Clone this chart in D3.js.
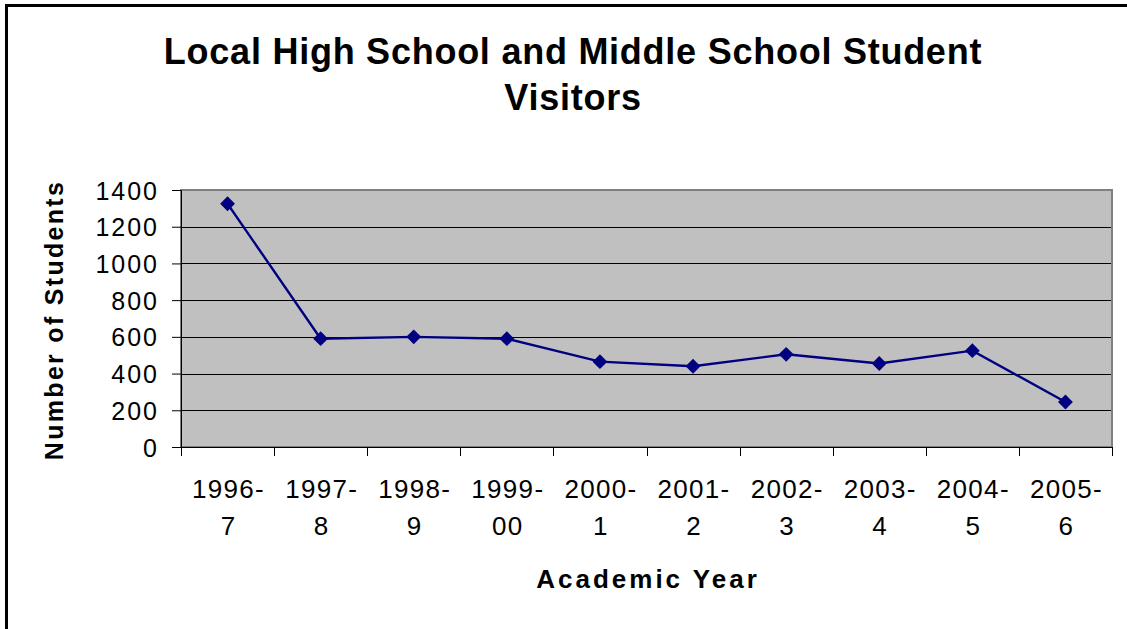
<!DOCTYPE html>
<html>
<head>
<meta charset="utf-8">
<script src="https://cdn.jsdelivr.net/npm/d3@7"></script>
<style>
  html, body { margin: 0; padding: 0; background: #fff; overflow: hidden; }
  svg { display: block; font-family: "Liberation Sans", Arial, sans-serif; }
</style>
</head>
<body>
<svg id="chart" width="1127" height="629"></svg>
<script>
const categories = ["1996-7", "1997-8", "1998-9", "1999-00", "2000-1", "2001-2", "2002-3", "2003-4", "2004-5", "2005-6"];
const visitors = [1325, 590, 600, 590, 465, 440, 505, 455, 525, 245];
const yTicks = [0, 200, 400, 600, 800, 1000, 1200, 1400];
const titleLines = ["Local High School and Middle School Student", "Visitors"];
const xTitle = "Academic Year";
const yTitle = "Number of Students";

const svg = d3.select("#chart");
const W = 1127, H = 629;
const plot = { left: 181, top: 190, right: 1112, bottom: 447 };

// outer frame (extends beyond right/bottom edges)
svg.append("rect")
  .attr("x", 6.5).attr("y", 5.5)
  .attr("width", W + 20).attr("height", H + 20)
  .attr("fill", "#fff").attr("stroke", "#000").attr("stroke-width", 3);

const x = d3.scaleBand().domain(categories).range([plot.left, plot.right]).padding(0);
const y = d3.scaleLinear().domain([0, 1400]).range([plot.bottom, plot.top]);

// plot area background
svg.append("rect")
  .attr("x", plot.left).attr("y", plot.top)
  .attr("width", plot.right - plot.left).attr("height", plot.bottom - plot.top)
  .attr("fill", "#c0c0c0");

// gridlines
svg.append("g")
  .selectAll("line")
  .data(yTicks.filter(d => d > 0 && d < 1400))
  .join("line")
  .attr("x1", plot.left).attr("x2", plot.right)
  .attr("y1", d => Math.round(y(d)) + 0.5).attr("y2", d => Math.round(y(d)) + 0.5)
  .attr("stroke", "#000").attr("stroke-width", 1);

// plot border (gray)
svg.append("rect")
  .attr("x", plot.left).attr("y", plot.top)
  .attr("width", plot.right - plot.left).attr("height", plot.bottom - plot.top)
  .attr("fill", "none").attr("stroke", "#808080").attr("stroke-width", 2);

// Y axis
const yAxis = d3.axisLeft(y).tickValues(yTicks).tickSize(9).tickPadding(13).tickFormat(d3.format("d"));
const gy = svg.append("g").attr("transform", `translate(${plot.left},0)`).call(yAxis);
gy.select(".domain").attr("stroke", "#000").attr("stroke-width", 1);
gy.selectAll(".tick line").attr("stroke", "#000");
gy.selectAll(".tick text").attr("font-size", 25).attr("fill", "#000")
  .attr("letter-spacing", 2)
  .attr("font-family", "Liberation Sans, Arial, sans-serif").attr("dy", "0.36em");

// X axis: ticks at category boundaries
const boundaries = categories.map(c => x(c)).concat([plot.right]);
const gx = svg.append("g");
gx.append("line").attr("x1", plot.left).attr("x2", plot.right)
  .attr("y1", plot.bottom + 0.5).attr("y2", plot.bottom + 0.5).attr("stroke", "#000");
gx.selectAll("line.tk").data(boundaries).join("line").attr("class", "tk")
  .attr("x1", d => Math.round(d) + 0.5).attr("x2", d => Math.round(d) + 0.5)
  .attr("y1", plot.bottom).attr("y2", plot.bottom + 9).attr("stroke", "#000");
const labels = gx.selectAll("text.lbl").data(categories).join("text").attr("class", "lbl")
  .attr("text-anchor", "middle").attr("font-size", 26).attr("fill", "#000")
  .attr("letter-spacing", 1.3)
  .attr("x", d => x(d) + x.bandwidth() / 2);
labels.each(function(d) {
  const idx = d.indexOf("-");
  const t = d3.select(this);
  const cx = x(d) + x.bandwidth() / 2 + 1;
  t.append("tspan").attr("x", cx).attr("y", 498).text(d.slice(0, idx + 1));
  t.append("tspan").attr("x", cx).attr("y", 535).text(d.slice(idx + 1));
});

// line + markers
const line = d3.line().x((d, i) => x(categories[i]) + x.bandwidth() / 2).y(d => y(d));
svg.append("path").datum(visitors)
  .attr("d", line).attr("fill", "none").attr("stroke", "#000080").attr("stroke-width", 2.4);
svg.append("g").selectAll("path").data(visitors).join("path")
  .attr("d", d3.symbol().type(d3.symbolDiamond2).size(140))
  .attr("transform", (d, i) => `translate(${x(categories[i]) + x.bandwidth() / 2},${y(d)})`)
  .attr("fill", "#000080");

// title
svg.append("g").selectAll("text").data(titleLines).join("text")
  .attr("x", 573).attr("y", (d, i) => 64 + i * 46)
  .attr("text-anchor", "middle").attr("font-size", 36).attr("font-weight", "bold")
  .attr("letter-spacing", 0.75)
  .attr("fill", "#000").text(d => d);

// axis titles
svg.append("text").attr("x", 648).attr("y", 588).attr("text-anchor", "middle")
  .attr("font-size", 26).attr("font-weight", "bold").attr("letter-spacing", 3).text(xTitle);
svg.append("text").attr("transform", "translate(63,320) rotate(-90)")
  .attr("text-anchor", "middle").attr("font-size", 25).attr("font-weight", "bold")
  .attr("letter-spacing", 2.3).text(yTitle);
</script>
</body>
</html>
